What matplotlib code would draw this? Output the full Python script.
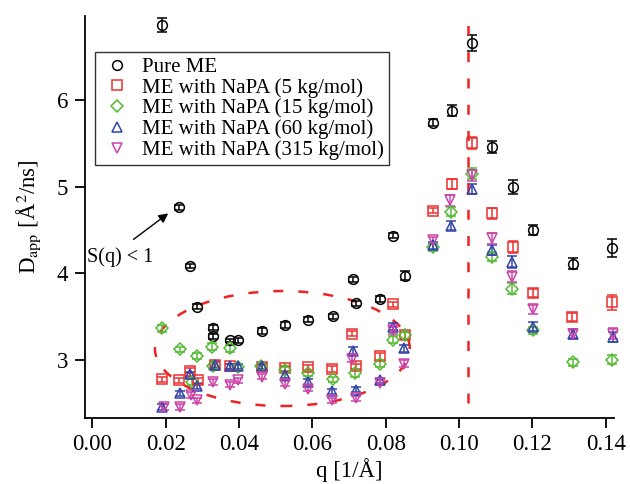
import numpy as np
import matplotlib
matplotlib.use("Agg")
import matplotlib.pyplot as plt
from matplotlib.patches import Ellipse
from matplotlib.lines import Line2D

plt.rcParams['font.family'] = ['Liberation Serif', 'DejaVu Serif']
plt.rcParams['mathtext.fontset'] = 'stix'

#------------------------
# data

# Pure ME
q_pure = [0.0190, 0.0236, 0.0266, 0.0285, 0.0330, 0.0330, 0.0374, 0.0397, 0.0462, 0.0526,
          0.0589, 0.0656, 0.0710, 0.0719, 0.0783, 0.0819, 0.0853, 0.0928, 0.0981, 0.1036,
          0.1091, 0.1146, 0.1201, 0.1310, 0.1417]
d_pure = [6.87, 4.76, 4.08, 3.61, 3.37, 3.27, 3.22, 3.22, 3.33, 3.40,
          3.46, 3.50, 3.93, 3.65, 3.70, 4.43, 3.97, 5.74, 5.88, 6.66,
          5.46, 5.00, 4.50, 4.11, 4.29]
e_pure = [0.08, 0.03, 0.02, 0.03, 0.03, 0.03, 0.02, 0.03, 0.03, 0.03,
          0.03, 0.03, 0.03, 0.03, 0.03, 0.03, 0.05, 0.04, 0.06, 0.09,
          0.07, 0.08, 0.06, 0.06, 0.10]

# NaPA 5 kg/mol
q_5 = [0.0191, 0.0237, 0.0266, 0.0287, 0.0333, 0.0375, 0.0462, 0.0526, 0.0589, 0.0654,
       0.0707, 0.0719, 0.0785, 0.0821, 0.0853, 0.0928, 0.0980, 0.1035, 0.1091, 0.1148,
       0.1201, 0.1309, 0.1417]
d_5 = [2.77, 2.76, 2.87, 2.76, 2.94, 2.92, 2.91, 2.90, 2.91, 2.89,
       3.30, 2.92, 3.04, 3.64, 3.28, 4.72, 5.03, 5.50, 4.69, 4.30,
       3.77, 3.49, 3.66]
e_5 = [0.03, 0.03, 0.03, 0.03, 0.03, 0.03, 0.03, 0.03, 0.03, 0.03,
       0.03, 0.03, 0.04, 0.03, 0.04, 0.03, 0.06, 0.07, 0.06, 0.07,
       0.05, 0.05, 0.09]

# NaPA 15 kg/mol
q_15 = [0.0191, 0.0239, 0.0272, 0.0285, 0.0327, 0.0330, 0.0375, 0.0398, 0.0460, 0.0526,
        0.0589, 0.0655, 0.0716, 0.0785, 0.0819, 0.0853, 0.0928, 0.0977, 0.1035, 0.1090,
        0.1144, 0.1201, 0.1310, 0.1417]
d_15 = [3.36, 3.12, 2.74, 3.04, 3.15, 2.92, 3.13, 2.91, 2.92, 2.88,
        2.84, 2.77, 2.84, 2.95, 3.23, 3.28, 4.30, 4.71, 5.15, 4.19,
        3.82, 3.34, 2.97, 3.00]
e_15 = [0.04, 0.03, 0.03, 0.03, 0.04, 0.03, 0.04, 0.03, 0.03, 0.03,
        0.03, 0.03, 0.04, 0.04, 0.04, 0.04, 0.04, 0.05, 0.06, 0.05,
        0.06, 0.04, 0.04, 0.05]

# NaPA 60 kg/mol
q_60 = [0.0191, 0.0239, 0.0266, 0.0285, 0.0333, 0.0375, 0.0398, 0.0462, 0.0524, 0.0589,
        0.0653, 0.0710, 0.0719, 0.0785, 0.0819, 0.0851, 0.0928, 0.0977, 0.1035, 0.1090,
        0.1144, 0.1201, 0.1310, 0.1420]
d_60 = [2.45, 2.61, 2.83, 2.69, 2.94, 2.92, 2.92, 2.92, 2.82, 2.74,
        2.63, 3.10, 2.65, 2.76, 3.38, 3.13, 4.32, 4.55, 4.97, 4.27,
        4.13, 3.38, 3.30, 3.26]
e_60 = [0.03, 0.03, 0.03, 0.03, 0.04, 0.03, 0.03, 0.03, 0.03, 0.03,
        0.03, 0.04, 0.03, 0.03, 0.04, 0.04, 0.04, 0.05, 0.06, 0.06,
        0.07, 0.05, 0.05, 0.06]

# NaPA 315 kg/mol
q_315 = [0.0194, 0.0239, 0.0268, 0.0285, 0.0330, 0.0375, 0.0398, 0.0462, 0.0526, 0.0589,
         0.0653, 0.0707, 0.0719, 0.0785, 0.0819, 0.0851, 0.0928, 0.0976, 0.1035, 0.1090,
         0.1144, 0.1201, 0.1310, 0.1419]
d_315 = [2.45, 2.45, 2.59, 2.53, 2.74, 2.71, 2.76, 2.80, 2.72, 2.66,
         2.53, 3.01, 2.55, 2.73, 3.34, 2.95, 4.38, 4.84, 5.13, 4.40,
         3.96, 3.58, 3.29, 3.30]
e_315 = [0.03, 0.03, 0.03, 0.03, 0.03, 0.03, 0.03, 0.03, 0.03, 0.03,
         0.03, 0.04, 0.03, 0.03, 0.04, 0.04, 0.04, 0.06, 0.06, 0.06,
         0.06, 0.05, 0.05, 0.06]

labels = ['Pure ME', 'ME with NaPA (5 kg/mol)', 'ME with NaPA (15 kg/mol)',
          'ME with NaPA (60 kg/mol)', 'ME with NaPA (315 kg/mol)']
x_ticks = [0.00, 0.02, 0.04, 0.06, 0.08, 0.10, 0.12, 0.14]
y_ticks = [3, 4, 5, 6]

#------------------------

fig = plt.figure(figsize=(6.3, 4.84), dpi=100)
ax = fig.add_axes([0.135, 0.137, 0.84, 0.830])

series = [
    (q_pure, d_pure, e_pure, 'o', 'black', 7),
    (q_5, d_5, e_5, 's', '#ee3030', 6.5),
    (q_15, d_15, e_15, 'D', '#55bb33', 6.5),
    (q_60, d_60, e_60, '^', '#3344aa', 7.5),
    (q_315, d_315, e_315, 'v', '#cc44aa', 7.5),
]
handles = []
for (q, d, e, m, c, ms), lab in zip(series, labels):
    ax.errorbar(q, d, yerr=e, fmt=m, ms=ms, mfc='none', mec=c, mew=1.1,
                ecolor=c, elinewidth=1.1, capsize=3.5, capthick=1.1,
                clip_on=False)
    handles.append(Line2D([], [], ls='none', marker=m, ms=ms, mfc='none',
                          mec=c, mew=1.1, label=lab))

# dashed guides
ax.plot([0.1023, 0.1023], [2.50, 6.97], color='#ee2222', lw=1.8,
        dashes=(4, 6.5))
ell = Ellipse((0.0518, 3.127), 0.0695, 1.33, fill=False, edgecolor='#ee2222',
              lw=1.8, linestyle=(0, (4, 6)))
ax.add_patch(ell)

ax.annotate('', xy=(0.0213, 4.71), xytext=(0.0106, 4.37),
            arrowprops=dict(arrowstyle='-|>', color='black', lw=1.0,
                            mutation_scale=14))
ax.text(-0.0015, 4.18, 'S(q) < 1', fontsize=14.5, va='center', ha='left')

ax.set_xlim(-0.002, 0.1423)
ax.set_ylim(2.327, 6.974)
ax.set_xticks(x_ticks)
ax.set_xticklabels(['%.2f' % v for v in x_ticks])
ax.set_yticks(y_ticks)
ax.spines['top'].set_visible(False)
ax.spines['right'].set_visible(False)
ax.spines['left'].set_linewidth(1.3)
ax.spines['bottom'].set_linewidth(1.3)
ax.tick_params(direction='out', length=7, width=1.3, labelsize=16.5, pad=5)

ax.set_xlabel('q [1/Å]', fontsize=16.5, labelpad=2)
ax.set_ylabel(r'D$_{\mathrm{app}}$ [Å$^{2}$/ns]', fontsize=16.5, labelpad=10)

leg = ax.legend(handles=handles, loc='upper left', bbox_to_anchor=(0.019, 0.91),
                fontsize=15, frameon=True, fancybox=False, handletextpad=0.4,
                labelspacing=0.05, borderpad=0.25, handlelength=1.6,
                borderaxespad=0)
leg.get_frame().set_edgecolor('black')
leg.get_frame().set_linewidth(1.0)

fig.savefig('out.png', dpi=100)
